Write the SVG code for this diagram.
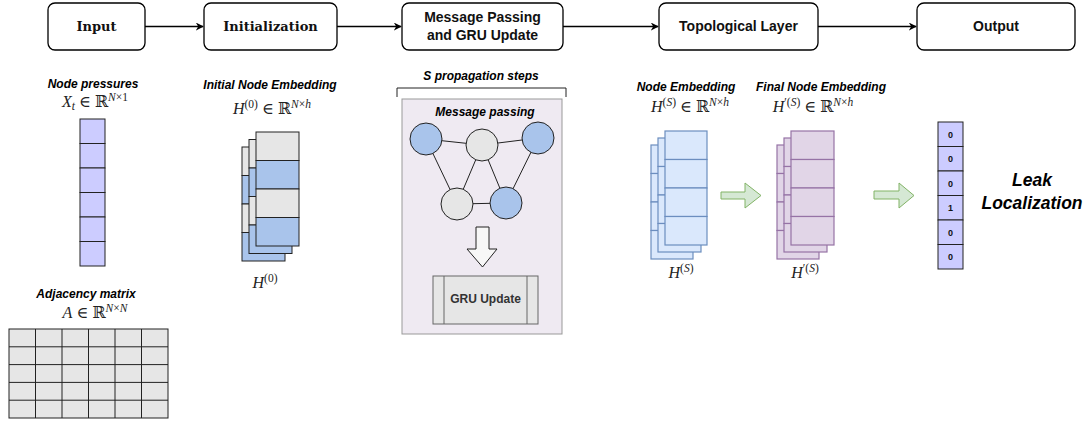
<svg xmlns="http://www.w3.org/2000/svg" width="1089" height="425" viewBox="0 0 1089 425">
<style>
.box{fill:#fff;stroke:#000;stroke-width:1.3}
.t1{font-family:"DejaVu Serif",serif;font-weight:bold;font-size:13px;fill:#111;text-anchor:middle}
.t2{font-family:"Liberation Sans",Arial,sans-serif;font-weight:bold;font-size:14px;fill:#111;text-anchor:middle}
.lbl{font-family:"Liberation Sans",Arial,sans-serif;font-weight:bold;font-style:italic;font-size:12px;fill:#000;text-anchor:middle}
.math{font-family:"Liberation Serif","DejaVu Serif",serif;font-size:16px;fill:#222;text-anchor:middle}
.i{font-style:italic}
.s{font-size:11.5px}
.conn{stroke:#000;stroke-width:1.3;fill:none}
.cell{fill:#ccccff;stroke:#222;stroke-width:1}
.gcell{fill:#e6e6e6;stroke:#222;stroke-width:1}
.bcell{fill:#a9c4eb;stroke:#222;stroke-width:1}
.hcell{fill:#dae8fc;stroke:#6c8ebf;stroke-width:1.2}
.pcell{fill:#e1d5e7;stroke:#9673a6;stroke-width:1.2}
.garrow{fill:#d5e8d4;stroke:#82b366;stroke-width:1}
.gnode{fill:#e6e6e6;stroke:#222;stroke-width:1}
.bnode{fill:#a9c4eb;stroke:#222;stroke-width:1}
.edge{stroke:#222;stroke-width:1;fill:none}
.num{font-family:"Liberation Sans",Arial,sans-serif;font-weight:bold;font-size:9px;fill:#111;text-anchor:middle}
</style>
<defs>
<marker id="arr" viewBox="0 0 10 10" refX="9" refY="5" markerWidth="8" markerHeight="8" markerUnits="userSpaceOnUse" orient="auto">
<path d="M0,0 L10,5 L0,10 L3,5 z" fill="#000"/>
</marker>
</defs>
<rect width="1089" height="425" fill="#fff"/>

<g id="connectors">
<line class="conn" x1="145" y1="26.5" x2="203" y2="26.5" marker-end="url(#arr)"/>
<line class="conn" x1="337" y1="26.5" x2="401" y2="26.5" marker-end="url(#arr)"/>
<line class="conn" x1="563" y1="26.5" x2="658" y2="26.5" marker-end="url(#arr)"/>
<line class="conn" x1="818" y1="26.5" x2="916" y2="26.5" marker-end="url(#arr)"/>
</g>

<g id="step-input">
<rect class="box" x="48" y="3" width="97" height="47" rx="7"/>
<text class="t1" x="96.5" y="31">Input</text>
</g>
<g id="step-init">
<rect class="box" x="204" y="3" width="133" height="47" rx="7"/>
<text class="t1" x="270.5" y="31">Initialization</text>
</g>
<g id="step-mp">
<rect class="box" x="402" y="3" width="161" height="47" rx="7"/>
<text class="t2" x="482.5" y="22">Message Passing</text>
<text class="t2" x="482.5" y="40">and GRU Update</text>
</g>
<g id="step-topo">
<rect class="box" x="659" y="3" width="159" height="47" rx="7"/>
<text class="t2" x="738.5" y="31">Topological Layer</text>
</g>
<g id="step-output">
<rect class="box" x="917" y="3" width="158" height="47" rx="7"/>
<text class="t2" x="996" y="31">Output</text>
</g>

<g id="node-pressures">
<text class="lbl" x="93" y="88">Node pressures</text>
<text class="math" x="95" y="107"><tspan class="i">X</tspan><tspan class="i s" dy="3">t</tspan><tspan dy="-3"> ∈ ℝ</tspan><tspan class="i s" dy="-6">N</tspan><tspan class="s">×1</tspan></text>
<rect class="cell" x="80" y="119" width="25" height="24.5"/>
<rect class="cell" x="80" y="143.5" width="25" height="24.5"/>
<rect class="cell" x="80" y="168" width="25" height="24.5"/>
<rect class="cell" x="80" y="192.5" width="25" height="24.5"/>
<rect class="cell" x="80" y="217" width="25" height="24.5"/>
<rect class="cell" x="80" y="241.5" width="25" height="24.5"/>
</g>

<g id="adjacency">
<text class="lbl" x="86" y="298">Adjacency matrix</text>
<text class="math" x="95" y="318"><tspan class="i">A</tspan><tspan> ∈ ℝ</tspan><tspan class="i s" dy="-6">N</tspan><tspan class="s">×</tspan><tspan class="i s">N</tspan></text>
<rect class="gcell" x="9" y="329" width="159" height="89" stroke-width="1.2"/>
<path class="edge" d="M35.5,329V418M62,329V418M88.5,329V418M115,329V418M141.5,329V418M9,346.8H168M9,364.6H168M9,382.4H168M9,400.2H168"/>
</g>

<g id="initial-embedding">
<text class="lbl" x="270" y="89">Initial Node Embedding</text>
<text class="math" x="272" y="114"><tspan class="i">H</tspan><tspan class="s" dy="-6">(0)</tspan><tspan dy="6"> ∈ ℝ</tspan><tspan class="i s" dy="-6">N</tspan><tspan class="s">×</tspan><tspan class="i s">h</tspan></text>
<g>
<rect class="gcell" x="242" y="147" width="43" height="28.5"/>
<rect class="bcell" x="242" y="175.5" width="43" height="28.5"/>
<rect class="gcell" x="242" y="204" width="43" height="28.5"/>
<rect class="bcell" x="242" y="232.5" width="43" height="28.5"/>
</g>
<g>
<rect class="gcell" x="249" y="139.5" width="43" height="28.5"/>
<rect class="bcell" x="249" y="168" width="43" height="28.5"/>
<rect class="gcell" x="249" y="196.5" width="43" height="28.5"/>
<rect class="bcell" x="249" y="225" width="43" height="28.5"/>
</g>
<g>
<rect class="gcell" x="256" y="132" width="43" height="28.5"/>
<rect class="bcell" x="256" y="160.5" width="43" height="28.5"/>
<rect class="gcell" x="256" y="189" width="43" height="28.5"/>
<rect class="bcell" x="256" y="217.5" width="43" height="28.5"/>
</g>
<text class="math" x="265" y="288"><tspan class="i">H</tspan><tspan class="s" dy="-6">(0)</tspan></text>
</g>

<g id="message-passing">
<text class="lbl" x="481" y="80">S propagation steps</text>
<path d="M397,97V88H566V97" fill="none" stroke="#222" stroke-width="1"/>
<rect x="402" y="99" width="160" height="235" fill="#efeaf2" stroke="#999" stroke-width="1"/>
<text class="lbl" x="485" y="116">Message passing</text>
<path class="edge" d="M426,139L482,145L538,138M426,139L457,204L506,203L538,138M482,145L457,204M482,145L506,203"/>
<circle class="bnode" cx="426" cy="139" r="16"/>
<circle class="gnode" cx="482" cy="145" r="16"/>
<circle class="bnode" cx="538" cy="138" r="16"/>
<circle class="gnode" cx="457" cy="204" r="16"/>
<circle class="bnode" cx="506" cy="203" r="16"/>
<path d="M476,227H489V249H497L482.5,267L467,249H476Z" fill="#f7f7f7" stroke="#222" stroke-width="1"/>
<rect x="433" y="276" width="105" height="48" fill="#e6e6e6" stroke="#666" stroke-width="1"/>
<path d="M444,276V324M527,276V324" stroke="#666" stroke-width="1"/>
<text x="485.5" y="303" font-family="Liberation Sans,Arial,sans-serif" font-weight="bold" font-size="12" fill="#333" text-anchor="middle">GRU Update</text>
</g>

<g id="node-embedding">
<text class="lbl" x="686" y="91">Node Embedding</text>
<text class="math" x="690" y="112"><tspan class="i">H</tspan><tspan class="s" dy="-6">(</tspan><tspan class="i s">S</tspan><tspan class="s">)</tspan><tspan dy="6"> ∈ ℝ</tspan><tspan class="i s" dy="-6">N</tspan><tspan class="s">×</tspan><tspan class="i s">h</tspan></text>
<g>
<rect class="hcell" x="651" y="145" width="42" height="28.5"/>
<rect class="hcell" x="651" y="173.5" width="42" height="28.5"/>
<rect class="hcell" x="651" y="202" width="42" height="28.5"/>
<rect class="hcell" x="651" y="230.5" width="42" height="28.5"/>
</g>
<g>
<rect class="hcell" x="658" y="138" width="43" height="28.5"/>
<rect class="hcell" x="658" y="166.5" width="43" height="28.5"/>
<rect class="hcell" x="658" y="195" width="43" height="28.5"/>
<rect class="hcell" x="658" y="223.5" width="43" height="28.5"/>
</g>
<g>
<rect class="hcell" x="665" y="131" width="42" height="28.5"/>
<rect class="hcell" x="665" y="159.5" width="42" height="28.5"/>
<rect class="hcell" x="665" y="188" width="42" height="28.5"/>
<rect class="hcell" x="665" y="216.5" width="42" height="28.5"/>
</g>
<text class="math" x="681" y="278"><tspan class="i">H</tspan><tspan class="s" dy="-6">(</tspan><tspan class="i s">S</tspan><tspan class="s">)</tspan></text>
</g>

<g id="arrow-green-1">
<path class="garrow" d="M721,192H745V183L761,195.5L745,208V199H721Z"/>
</g>

<g id="final-embedding">
<text class="lbl" x="821" y="91">Final Node Embedding</text>
<text class="math" x="813" y="112"><tspan class="i">H</tspan><tspan class="s" dy="-6">′(</tspan><tspan class="i s">S</tspan><tspan class="s">)</tspan><tspan dy="6"> ∈ ℝ</tspan><tspan class="i s" dy="-6">N</tspan><tspan class="s">×</tspan><tspan class="i s">h</tspan></text>
<g>
<rect class="pcell" x="777" y="145" width="42" height="28.5"/>
<rect class="pcell" x="777" y="173.5" width="42" height="28.5"/>
<rect class="pcell" x="777" y="202" width="42" height="28.5"/>
<rect class="pcell" x="777" y="230.5" width="42" height="28.5"/>
</g>
<g>
<rect class="pcell" x="784" y="138" width="43" height="28.5"/>
<rect class="pcell" x="784" y="166.5" width="43" height="28.5"/>
<rect class="pcell" x="784" y="195" width="43" height="28.5"/>
<rect class="pcell" x="784" y="223.5" width="43" height="28.5"/>
</g>
<g>
<rect class="pcell" x="791" y="131" width="43" height="28.5"/>
<rect class="pcell" x="791" y="159.5" width="43" height="28.5"/>
<rect class="pcell" x="791" y="188" width="43" height="28.5"/>
<rect class="pcell" x="791" y="216.5" width="43" height="28.5"/>
</g>
<text class="math" x="805" y="278"><tspan class="i">H</tspan><tspan class="s" dy="-6">′(</tspan><tspan class="i s">S</tspan><tspan class="s">)</tspan></text>
</g>

<g id="arrow-green-2">
<path class="garrow" d="M874,191H899V183L914,195.5L899,208V199H874Z"/>
</g>

<g id="output-vector">
<rect class="cell" x="938" y="122" width="25" height="24.5"/>
<rect class="cell" x="938" y="146.5" width="25" height="24.5"/>
<rect class="cell" x="938" y="171" width="25" height="24.5"/>
<rect class="cell" x="938" y="195.5" width="25" height="24.5"/>
<rect class="cell" x="938" y="220" width="25" height="24.5"/>
<rect class="cell" x="938" y="244.5" width="25" height="24.5"/>
<text class="num" x="950.5" y="137.5">0</text>
<text class="num" x="950.5" y="162">0</text>
<text class="num" x="950.5" y="186.5">0</text>
<text class="num" x="950.5" y="211">1</text>
<text class="num" x="950.5" y="235.5">0</text>
<text class="num" x="950.5" y="260">0</text>
</g>

<g id="leak-label">
<text x="1032" y="186" font-family="Liberation Sans,Arial,sans-serif" font-weight="bold" font-style="italic" font-size="17.5" fill="#000" text-anchor="middle">Leak</text>
<text x="1032" y="209" font-family="Liberation Sans,Arial,sans-serif" font-weight="bold" font-style="italic" font-size="17.5" fill="#000" text-anchor="middle">Localization</text>
</g>
</svg>
